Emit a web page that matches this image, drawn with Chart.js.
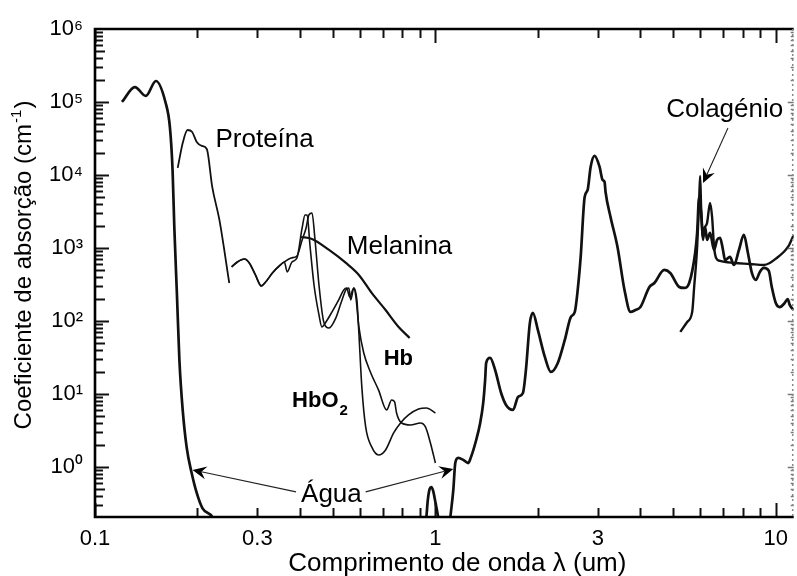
<!DOCTYPE html>
<html>
<head>
<meta charset="utf-8">
<script src="https://cdn.jsdelivr.net/npm/chart.js@4.4.1/dist/chart.umd.min.js"></script>
<style>
html,body{margin:0;padding:0;background:#fff}
#wrap{width:797px;height:576px;position:relative}
</style>
</head>
<body>
<div id="wrap"><canvas id="c" width="797" height="576"></canvas></div>
<script>
// ---- Data (wavelength in um, absorption coefficient in cm^-1) ----
const waterWl = [0.120,0.131,0.141,0.151,0.161,0.166,0.169,0.171,0.174,0.177,0.181,0.186,0.192,0.199,0.207,0.221,0.235,
  0.925,0.941,0.950,0.962,0.973,0.985,1.000,1.020,1.040,
  1.090,1.106,1.129,1.144,1.167,1.207,1.249,1.270,1.318,1.354,
  1.382,1.400,1.410,1.448,1.498,1.560,1.613,1.691,1.749,1.808,
  1.845,1.895,1.934,2.000,2.097,2.184,2.289,2.400,2.499,2.568,
  2.619,2.672,2.745,2.801,2.858,2.936,3.037,3.099,3.141,3.162,
  3.270,3.428,3.594,3.743,3.870,4.003,4.254,4.399,4.704,4.898,
  5.204,5.383,5.567,5.797,5.875,5.955,6.035,6.116,6.199,6.283,
  6.412,6.588,6.723,6.861,6.998,7.093,7.336,7.537,7.795,8.061,
  8.283,8.508,8.741,8.978,9.224,9.540,9.734,10.00,10.27,10.62,
  10.84,10.99,11.29];
const waterAbs = [1.0e5,1.6e5,1.21e5,1.94e5,1.0e5,4.5e4,1.17e4,1940,242,29,6.0,1.82,0.85,0.44,0.27,0.206,0.1,
  0.1,0.207,0.35,0.5,0.53,0.47,0.33,0.2,0.1,
  0.1,0.2,0.484,1.134,1.33,1.25,1.13,1.33,2.34,4.0,
  7.53,15.5,26.6,31.1,21.3,10.3,7.07,6.04,9.10,10.3,
  21.3,93.9,129,75.3,32.1,20.0,26.6,54.9,113,133,
  266,753,4995,6230,12870,18210,12870,8550,8020,5850,
  2659,1032,266,133,141,155,292,331,500,454,
  292,283,331,854,1605,4995,3017,1415,1940,1287,
  1605,939,1287,1371,939,685,753,585,939,1507,
  854,454,364,469,532,484,292,176,155,176,
  200,166,141];

const proteinWl  = [0.175,0.181,0.187,0.193,0.199,0.206,0.213,0.221,0.232,0.248];
const proteinAbs = [12500,27400,41300,38800,28300,25000,22700,6850,2420,331];

const hbo2Wl  = [0.252,0.262,0.275,0.284,0.296,0.308,0.319,0.332,0.348,0.360,
  0.367,0.379,0.392,0.406,0.414,0.420,0.428,0.440,0.455,0.464,
  0.477,0.497,0.520,0.538,0.549,0.560,0.576,0.588,0.596,0.608,
  0.624,0.650,0.681,0.714,0.754,0.790,0.834,0.892,0.941,1.000];
const hbo2Abs = [549,643,707,623,427,302,353,454,567,643,
  469,643,730,1879,2833,2833,1099,311,121,82.7,
  96.9,133,194,266,283,213,283,194,68.5,12.5,
  3.53,1.88,1.46,1.71,2.92,4.0,5.16,6.23,6.43,5.49];

const hbWl  = [0.252,0.262,0.275,0.284,0.296,0.308,0.319,0.332,0.348,0.360,
  0.377,0.392,0.406,0.417,0.425,0.434,0.443,0.455,0.470,0.487,
  0.510,0.528,0.546,0.557,0.564,0.576,0.584,0.596,0.616,0.646,
  0.681,0.719,0.744,0.759,0.769,0.796,0.845,0.904,0.935,0.967,1.000];
const hbAbs = [549,643,707,623,427,302,353,454,567,643,
  730,777,1287,1879,2833,3017,1287,311,96.9,80.2,
  110,176,266,283,194,283,213,82.7,36.4,19.4,
  11.3,6.04,8.27,7.77,5.49,4.0,3.76,4.0,3.53,2.13,1.134];

const melaninWl  = [0.403,0.434,0.487,0.546,0.596,0.650,0.714,0.780,0.840];
const melaninAbs = [1415,1328,939,623,427,242,141,82.7,58.5];

const collagenWl  = [5.241,5.493,5.682,5.758,5.875,5.955,5.995,6.035,6.116,6.158,
  6.283,6.412,6.500,6.588,6.678,6.861,7.537,8.394,9.224,9.605,
  10.07,10.55,10.91,11.29];
const collagenAbs = [70.7,96.9,133,292,1032,4545,9690,3644,1287,1765,
  2200,4132,2659,1032,730,664,623,604,585,623,
  730,881,1065,1507];

// ---- Tick labels ----
const xTickVals = [0.1,0.3,1,3,10];
const xTickLabels = ['0.1','0.3','1','3','10'];
const yTickVals = [1,10,100,1000,10000,100000,1000000];
const yTickLabels = ['10\u2070','10\u00B9','10\u00B2','10\u00B3','10\u2074','10\u2075','10\u2076'];

// ---- Annotations (anchored in data coordinates) ----
const noteText = ['Proteína','Melanina','Água','Colagénio'];
const noteWl   = [0.2259, 0.5493, 0.4031, 4.764];
const noteAbs  = [24190, 827, 0.332, 62300];
const hbLabelAt   = [0.7047, 24.9];
const hbo2LabelAt = [0.3793, 6.63];
const arrowFromWl  = [0.3896, 0.624, 7.237];
const arrowFromAbs = [0.455, 0.455, 44040];
const arrowToWl    = [0.1934, 1.129, 6.116];
const arrowToAbs   = [0.91, 0.939, 7770];

const FAM = '"Liberation Sans", Arial, Helvetica, sans-serif';
const pts = (xs, ys) => xs.map((v, i) => ({x: v, y: ys[i]}));
const ds = (label, xs, ys, w) => ({
  label, data: pts(xs, ys), borderColor: '#111', borderWidth: w,
  pointRadius: 0, fill: false, cubicInterpolationMode: 'monotone', clip: 0
});

const decor = {
  id: 'decor',
  afterDatasetsDraw(chart) {
    const {ctx, chartArea: a, scales: {x, y}} = chart;
    ctx.save();
    const seg = (x1, y1, x2, y2) => { ctx.beginPath(); ctx.moveTo(x1, y1); ctx.lineTo(x2, y2); ctx.stroke(); };
    ctx.strokeStyle = '#111'; ctx.lineWidth = 2;
    // x ticks (bottom and top, inward)
    for (let d = -1; d <= 1; d++) for (let m = 1; m <= 9; m++) {
      const v = m * Math.pow(10, d);
      if (v < x.min * 0.999 || v > x.max) continue;
      const px = Math.round(x.getPixelForValue(v)) + 0.5;
      const len = m === 1 ? 14 : 9;
      seg(px, a.bottom, px, a.bottom - len);
      seg(px, a.top, px, a.top + len);
    }
    // y ticks (left, inward; right side faint)
    for (let d = -1; d <= 5; d++) for (let m = 1; m <= 9; m++) {
      const v = m * Math.pow(10, d);
      if (v < y.min || v > y.max * 1.0001) continue;
      const py = Math.round(y.getPixelForValue(v)) + 0.5;
      const len = m === 1 ? 14 : (m === 2 || m === 5 ? 10 : 8);
      seg(a.left, py, a.left + len, py);
      ctx.save(); ctx.strokeStyle = '#777'; ctx.lineWidth = 1.5;
      seg(a.right, py, a.right - (m === 1 ? 6 : 3), py);
      ctx.restore();
    }
    // frame
    ctx.strokeStyle = '#000'; ctx.lineWidth = 2.6;
    ctx.beginPath();
    ctx.moveTo(a.right, a.top); ctx.lineTo(a.left, a.top);
    ctx.lineTo(a.left, a.bottom); ctx.lineTo(a.right, a.bottom);
    ctx.stroke();
    ctx.strokeStyle = '#888'; ctx.lineWidth = 1.5; ctx.setLineDash([2, 3]);
    seg(a.right - 1, a.top, a.right - 1, a.bottom);
    ctx.setLineDash([]);

    // annotations text
    ctx.fillStyle = '#000'; ctx.textAlign = 'left'; ctx.textBaseline = 'alphabetic';
    ctx.font = '26px ' + FAM;
    noteText.forEach((t, i) => ctx.fillText(t, x.getPixelForValue(noteWl[i]), y.getPixelForValue(noteAbs[i])));
    ctx.font = 'bold 22px ' + FAM;
    ctx.fillText('Hb', x.getPixelForValue(hbLabelAt[0]), y.getPixelForValue(hbLabelAt[1]));
    const hx = x.getPixelForValue(hbo2LabelAt[0]), hy = y.getPixelForValue(hbo2LabelAt[1]);
    ctx.fillText('HbO', hx, hy);
    const w = ctx.measureText('HbO').width;
    ctx.font = 'bold 15px ' + FAM;
    ctx.fillText('2', hx + w + 1, hy + 8);

    // arrows
    ctx.strokeStyle = '#222'; ctx.fillStyle = '#000'; ctx.lineWidth = 1.1;
    arrowFromWl.forEach((_, i) => {
      const x1 = x.getPixelForValue(arrowFromWl[i]), y1 = y.getPixelForValue(arrowFromAbs[i]);
      const x2 = x.getPixelForValue(arrowToWl[i]), y2 = y.getPixelForValue(arrowToAbs[i]);
      const ang = Math.atan2(y2 - y1, x2 - x1);
      const L = 14, W = 6.5, N = 9;
      const bx = x2 - N * Math.cos(ang), by = y2 - N * Math.sin(ang);
      seg(x1, y1, bx, by);
      ctx.beginPath();
      ctx.moveTo(x2, y2);
      ctx.lineTo(x2 - L * Math.cos(ang) + W * Math.sin(ang), y2 - L * Math.sin(ang) - W * Math.cos(ang));
      ctx.lineTo(bx, by);
      ctx.lineTo(x2 - L * Math.cos(ang) - W * Math.sin(ang), y2 - L * Math.sin(ang) + W * Math.cos(ang));
      ctx.closePath(); ctx.fill();
    });

    // axis titles
    ctx.fillStyle = '#000';
    ctx.font = '26px ' + FAM;
    ctx.textAlign = 'center';
    ctx.fillText('Comprimento de onda \u03BB (um)', (a.left + a.right) / 2 + 13, 571);
    // y title rotated with superscript
    ctx.save();
    ctx.translate(31, (a.top + a.bottom) / 2 - 8);
    ctx.rotate(-Math.PI / 2);
    ctx.textAlign = 'left';
    const main = 'Coeficiente de absorção (cm';
    ctx.font = '24px ' + FAM;
    const wMain = ctx.measureText(main).width;
    ctx.font = '15px ' + FAM;
    const wSup = ctx.measureText('-1').width;
    ctx.font = '24px ' + FAM;
    const wClose = ctx.measureText(')').width;
    const total = wMain + wSup + wClose + 2;
    let cx = -total / 2;
    ctx.fillText(main, cx, 0); cx += wMain + 1;
    ctx.font = '15px ' + FAM; ctx.fillText('-1', cx, -10); cx += wSup + 1;
    ctx.font = '24px ' + FAM; ctx.fillText(')', cx, 0);
    ctx.restore();
    ctx.restore();
  }
};

new Chart(document.getElementById('c'), {
  type: 'line',
  data: {
    datasets: [
      ds('Água', waterWl, waterAbs, 2.7),
      ds('Proteína', proteinWl, proteinAbs, 1.8),
      ds('HbO2', hbo2Wl, hbo2Abs, 1.6),
      ds('Hb', hbWl, hbAbs, 1.6),
      ds('Melanina', melaninWl, melaninAbs, 2.2),
      ds('Colagénio', collagenWl, collagenAbs, 2.4)
    ]
  },
  options: {
    responsive: false, animation: false, devicePixelRatio: 1,
    layout: {padding: {top: 29, right: 0, left: 0, bottom: 0}},
    plugins: {legend: {display: false}, tooltip: {enabled: false}},
    scales: {
      x: {
        type: 'logarithmic', min: 0.1, max: 11.29,
        grid: {display: false, drawTicks: false}, border: {display: false},
        afterBuildTicks: s => { s.ticks = xTickVals.map(v => ({value: v})); },
        afterFit: s => { s.height = 59; },
        ticks: {autoSkip: false, maxRotation: 0, padding: 9, color: '#000',
          font: {family: FAM, size: 22}, callback: (v, i) => xTickLabels[i]}
      },
      y: {
        type: 'logarithmic', min: 0.206, max: 1e6,
        grid: {display: false, drawTicks: false}, border: {display: false},
        afterBuildTicks: s => { s.ticks = yTickVals.map(v => ({value: v})); },
        afterFit: s => { s.width = 95; },
        ticks: {autoSkip: false, padding: 12, color: '#000',
          font: {family: FAM, size: 22}, callback: (v, i) => yTickLabels[i]}
      }
    }
  },
  plugins: [decor]
});
</script>
</body>
</html>
